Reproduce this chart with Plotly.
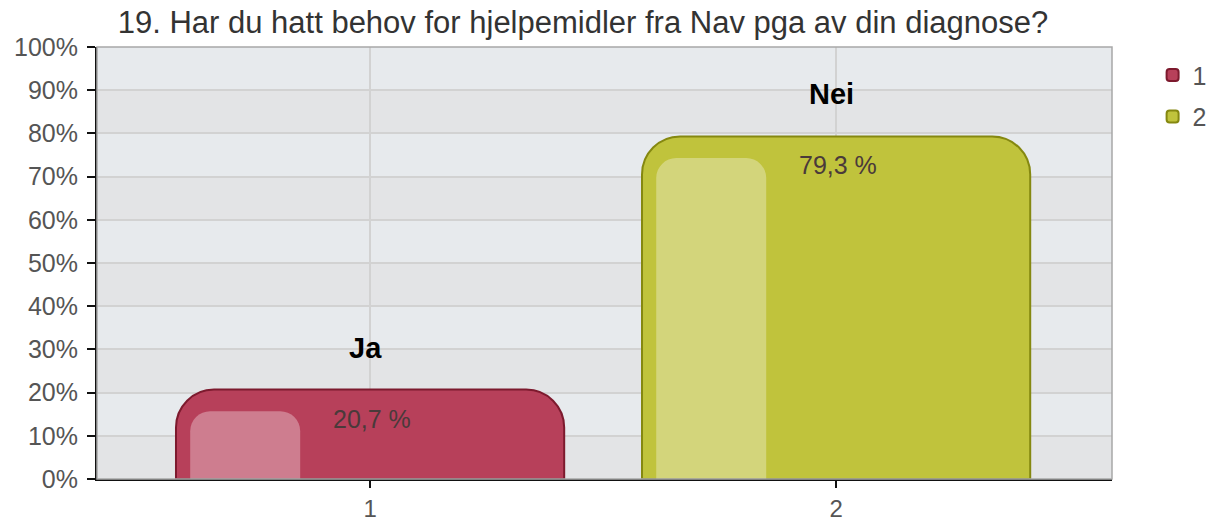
import plotly.graph_objects as go

# Data
categories = ["1", "2"]
values = [20.7, 79.3]
answers = ["Ja", "Nei"]
ytick_vals = list(range(0, 101, 10))
ytick_text = [f"{v}%" for v in ytick_vals]
title = "19. Har du hatt behov for hjelpemidler fra Nav pga av din diagnose?"

bar_colors = ["#b7405a", "#c0c33c"]
edge_colors = ["#7d1a2e", "#858810"]
hl_colors = ["rgba(235,200,208,0.45)", "rgba(235,235,200,0.45)"]

xs = [1, 2]
FONT = "Liberation Sans, Arial, sans-serif"

fig = go.Figure()

# Alternating background bands
for i in range(10):
    fig.add_shape(type="rect", xref="paper", yref="y", x0=0, x1=1,
                  y0=i * 10, y1=(i + 1) * 10, layer="below", line_width=0,
                  fillcolor="#e3e4e6" if i % 2 == 0 else "#e7eaed")

for i, (x, v, c) in enumerate(zip(xs, values, categories)):
    fig.add_trace(go.Bar(
        x=[x], y=[v], width=0.833, name=c, legendgroup=c,
        marker=dict(color=bar_colors[i], cornerradius=38,
                    line=dict(color=edge_colors[i], width=2)),
        showlegend=True, hoverinfo="skip"))

# Highlight strips (left)
for i, (x, v) in enumerate(zip(xs, values)):
    fig.add_trace(go.Bar(
        x=[x], y=[v - 5], width=0.236, offset=-0.386,
        marker=dict(color=hl_colors[i], cornerradius=20, line_width=0),
        showlegend=False, hoverinfo="skip"))

# Value labels and answer labels
for x, v, a in zip(xs, values, answers):
    fig.add_annotation(x=x + 0.005, y=v, yshift=-29, text=f"{v:.1f} %".replace(".", ","),
                       showarrow=False, font=dict(family=FONT, size=25, color="#4a3a3a"))
    fig.add_annotation(x=x - 0.01, y=v, yshift=42, text=f"<b>{a}</b>",
                       showarrow=False, font=dict(family=FONT, size=29, color="#000"))

# Plot border (top/right grey)
fig.add_shape(type="rect", xref="paper", yref="paper", x0=0, x1=1, y0=0, y1=1,
              line=dict(color="#a8a8a8", width=1.5), layer="above")

fig.update_layout(
    width=1220, height=522,
    margin=dict(l=97, r=108, t=47, b=43, autoexpand=False),
    paper_bgcolor="white", plot_bgcolor="rgba(0,0,0,0)",
    barmode="overlay",
    title=dict(text=title, x=583 / 1220, xanchor="center", y=1 - 22 / 522, yanchor="middle",
               automargin=False,
               font=dict(family=FONT, size=31, color="#333")),
    font=dict(family=FONT, size=25, color="#555"),
    legend=dict(x=1.04, y=0.988, xanchor="left", yanchor="top",
                font=dict(family=FONT, size=25, color="#555"),
                bgcolor="rgba(0,0,0,0)", tracegroupgap=6),
    xaxis=dict(range=[0.414, 2.592], tickvals=xs, ticktext=categories,
               showgrid=True, gridcolor="#d2d2d2", gridwidth=1.5,
               showline=True, linecolor="#111", linewidth=2,
               ticks="outside", ticklen=7, tickcolor="#111", tickwidth=2,
               zeroline=False, automargin=False,
               tickfont=dict(size=24, color="#555")),
    yaxis=dict(range=[0, 100], tickvals=ytick_vals, ticktext=ytick_text,
               showgrid=True, gridcolor="#d2d2d2", gridwidth=1.5,
               showline=True, linecolor="#111", linewidth=2,
               ticks="outside", ticklen=8, tickcolor="#111", tickwidth=2,
               zeroline=False, automargin=False, ticklabelstandoff=4,
               tickfont=dict(size=25, color="#555")),
)

fig.write_html("out.html", config={"displayModeBar": False},
               post_script="document.body.style.margin='0';document.body.style.overflow='hidden';")
